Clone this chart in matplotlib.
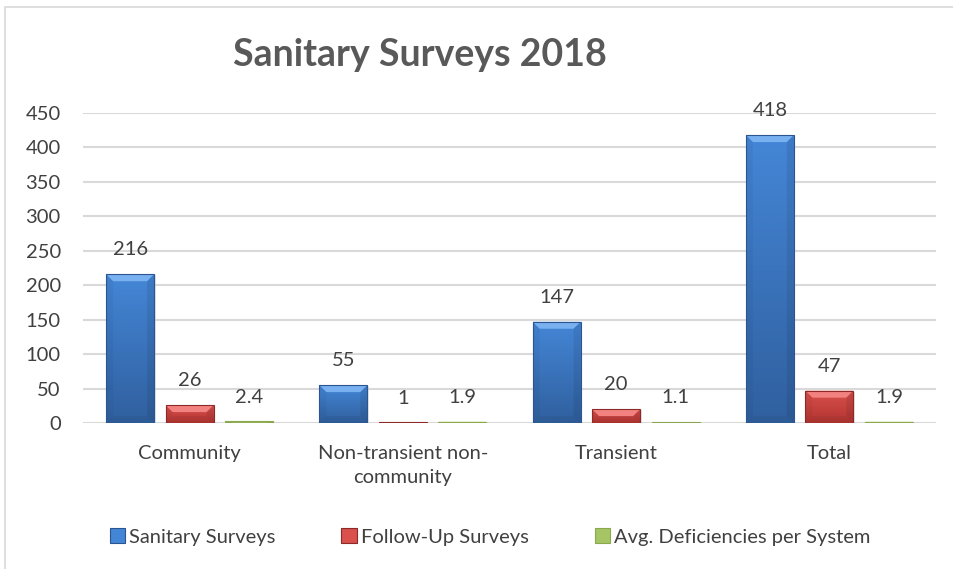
import matplotlib.pyplot as plt
from matplotlib.patches import Polygon, Rectangle
from matplotlib.colors import LinearSegmentedColormap
import numpy as np

categories = ['Community', 'Non-transient non-\ncommunity', 'Transient', 'Total']
sanitary = [216, 55, 147, 418]
follow_up = [26, 1, 20, 47]
avg_def = [2.4, 1.9, 1.1, 1.9]
series_names = ['Sanitary Surveys', 'Follow-Up Surveys', 'Avg. Deficiencies per System']
value_labels = [['216', '55', '147', '418'], ['26', '1', '20', '47'], ['2.4', '1.9', '1.1', '1.9']]

# face top, face bottom, top bevel, edge
palettes = [
    ('#4486d6', '#30609f', '#78b0f0', '#2a5590'),
    ('#d9504c', '#b33532', '#f2827f', '#8b2a29'),
    ('#a6c564', '#8eab50', '#c8e095', '#8aa84d'),
]

plt.rcParams['font.family'] = ['Lato', 'DejaVu Sans']
text_color = '#404040'

fig = plt.figure(figsize=(9.54, 5.69), dpi=100)
W, H = 954, 569
ax = fig.add_axes([83 / W, (H - 423) / H, (936 - 83) / W, (423 - 113) / H])

# chart frame
fig.patches.append(Rectangle((5 / W, -0.1), 1.2, 1.1 - 7 / H, transform=fig.transFigure,
                             fill=False, edgecolor='#d9d9d9', linewidth=1.2, zorder=0))

ax.set_yticks(np.arange(0, 451, 50))
ax.yaxis.grid(True, color='#d9d9d9', linewidth=1.5)
ax.set_axisbelow(True)
for s in ax.spines.values():
    s.set_visible(False)
ax.tick_params(axis='both', length=0, labelsize=14.5, colors=text_color)
ax.tick_params(axis='y', pad=16)
ax.tick_params(axis='x', pad=16)
ax.set_xticks(range(len(categories)))
ax.set_xticklabels(categories, linespacing=1.45)

x = np.arange(len(categories))
width = 0.225
step = 0.279
px_x = 1.0 / 213.3
px_y = 450 / 310.0
bev_x = 7 * px_x
bev_y = 7 * px_y
grad = np.linspace(0, 1, 64).reshape(-1, 1)

for i, vals in enumerate([sanitary, follow_up, avg_def]):
    ftop, fbot, top, edge = palettes[i]
    cmap = LinearSegmentedColormap.from_list('face%d' % i, [ftop, fbot])
    xs = x + (i - 1) * step
    bars = ax.bar(xs, vals, width, color=fbot, edgecolor='none', zorder=3,
                  label=series_names[i])
    for b, lab in zip(bars, value_labels[i]):
        x0, w, h = b.get_x(), b.get_width(), b.get_height()
        x1 = x0 + w
        # soft shadow under the bar
        ax.add_patch(Rectangle((x0 + 1.5 * px_x, -3 * px_y), w, h + 2 * px_y, color='#c8c8c8',
                               alpha=0.5, zorder=2, linewidth=0))
        img = ax.imshow(grad, cmap=cmap, extent=(x0, x1, 0, h), aspect='auto', zorder=3.5,
                        origin='upper', interpolation='bilinear')
        img.set_clip_path(b)
        by = min(bev_y, h / 2)
        bx = min(bev_x, w / 2)
        polys = [
            ([(x0, h), (x1, h), (x1 - bx, h - by), (x0 + bx, h - by)], top, 1.0),
            ([(x0, 0), (x0, h), (x0 + bx, h - by), (x0 + bx, by)], '#000000', 0.04),
            ([(x1, 0), (x1, h), (x1 - bx, h - by), (x1 - bx, by)], '#000000', 0.08),
            ([(x0, 0), (x1, 0), (x1 - bx, by), (x0 + bx, by)], '#000000', 0.05),
        ]
        for pts, c, a in polys:
            ax.add_patch(Polygon(pts, closed=True, facecolor=c, alpha=a, edgecolor='none', zorder=4))
        ax.add_patch(Rectangle((x0, 0), w, h, fill=False, edgecolor=edge, linewidth=0.8, zorder=5))
        ax.annotate(lab, (b.get_x() + w / 2, h), xytext=(0, 17.5), textcoords='offset points',
                    ha='center', va='center', fontsize=14.5, color=text_color, zorder=6)

ax.set_xlim(-0.5, 3.5)
ax.set_ylim(0, 450)

handles, labels = ax.get_legend_handles_labels()
leg = fig.legend(handles, labels, loc='center', bbox_to_anchor=(490 / W, (H - 537) / H), ncol=3,
                 frameon=False, fontsize=14.5, handlelength=0.75, handleheight=0.75,
                 handletextpad=0.2, columnspacing=3.3, labelcolor=text_color)
for hnd, c in zip(leg.legend_handles, palettes):
    hnd.set_facecolor(c[0])
    hnd.set_edgecolor(c[3])
    hnd.set_linewidth(0.8)

fig.text(420 / W, (H - 55) / H, 'Sanitary Surveys 2018', ha='center', va='center',
         fontsize=27, fontweight='bold', color='#595959')

fig.savefig('out.png', dpi=100)
